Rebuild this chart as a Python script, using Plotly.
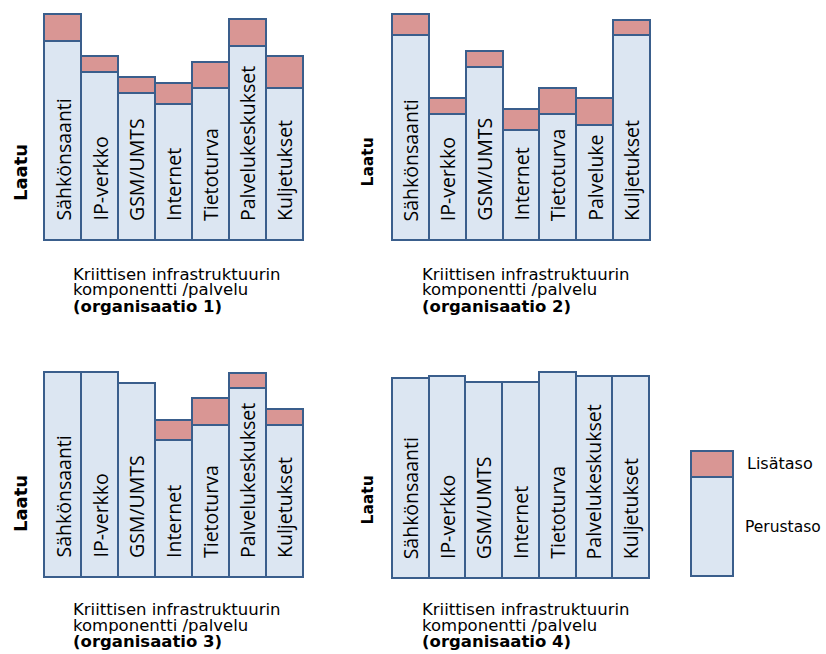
import plotly.graph_objects as go

W, H = 826, 654

# ---- data (arbitrary "Laatu" units) ----
categories_a = ["Sähkönsaanti", "IP-verkko", "GSM/UMTS", "Internet", "Tietoturva", "Palvelukeskukset", "Kuljetukset"]
categories_b = ["Sähkönsaanti", "IP-verkko", "GSM/UMTS", "Internet", "Tietoturva", "Palveluke", "Kuljetukset"]

org1_perus = [199, 168, 147, 136, 152, 194, 152]
org1_lisa = [27, 16, 16, 21, 26, 27, 32]

org2_perus = [205, 126, 173, 110, 126, 115, 205]
org2_lisa = [21, 16, 16, 21, 26, 27, 15]

org3_perus = [205, 205, 194, 137, 152, 189, 152]
org3_lisa = [None, None, None, 20, 27, 15, 16]

org4_perus = [200, 202, 196, 196, 206, 202, 202]
org4_lisa = [None, None, None, None, None, None, None]

legend_cat = ["Taso"]
legend_perus = [99]
legend_lisa = [26]

series_names = ["Perustaso", "Lisätaso"]
org_titles = ["(organisaatio 1)", "(organisaatio 2)", "(organisaatio 3)", "(organisaatio 4)"]
xtitle_lines = ["Kriittisen infrastruktuurin", "komponentti /palvelu"]
ylabel = "Laatu"

# ---- style ----
C_BASE = "#dce6f2"
C_LISA = "#d99694"
C_LINE = "#3a5e8c"
LW = 2
F_REG = "DejaVu Sans"
F_BAR = "Open Sans"

fig = go.Figure()

panels = [
    # cats, perus, lisa, L, R, B, laatu_x, laatu_y, laatu_size, title_x, title_ys
    (categories_a, org1_perus, org1_lisa, 44, 303, 240, 20, 173, 18, 72, [274, 290, 306]),
    (categories_b, org2_perus, org2_lisa, 392, 650, 240, 367.5, 162, 15.5, 421, [274, 290, 306]),
    (categories_a, org3_perus, org3_lisa, 44, 303, 577, 20, 504, 18, 72, [609, 625, 641]),
    (categories_a, org4_perus, org4_lisa, 392, 649, 578, 367.5, 500, 15.5, 421, [609, 625, 641]),
]

pad = 4
layout_axes = {}
annotations = []

def add_axes(idx, L, R, B, ncat, top_units=240):
    w = (R - L) / ncat
    sfx = str(idx) if idx > 1 else ""
    xa = dict(domain=[(L - pad) / W, (R + pad) / W], range=[-0.5 - pad / w, ncat - 0.5 + pad / w],
              showticklabels=False, showgrid=False, zeroline=False, showline=False, ticks="",
              anchor="y" + sfx, type="category")
    ya = dict(domain=[1 - (B + pad) / H, 1 - (B - top_units) / H], range=[-pad, top_units],
              showticklabels=False, showgrid=False, zeroline=False, showline=False, ticks="",
              anchor="x" + sfx)
    layout_axes["xaxis" + sfx] = xa
    layout_axes["yaxis" + sfx] = ya
    return ("x" + sfx, "y" + sfx)

for i, (cats, perus, lisa, L, R, B, lx, ly, ls, tx, tys) in enumerate(panels, start=1):
    xr, yr = add_axes(i, L, R, B, len(cats))
    fig.add_trace(go.Bar(x=cats, y=perus, name=series_names[0], xaxis=xr, yaxis=yr,
                         marker=dict(color=C_BASE, line=dict(color=C_LINE, width=LW)),
                         showlegend=False, hoverinfo="skip"))
    fig.add_trace(go.Bar(x=cats, y=lisa, name=series_names[1], xaxis=xr, yaxis=yr,
                         marker=dict(color=C_LISA, line=dict(color=C_LINE, width=LW)),
                         showlegend=False, hoverinfo="skip"))
    for c in cats:
        annotations.append(dict(x=c, y=18, xref=xr, yref=yr, text=c, showarrow=False,
                                textangle=-90, xanchor="center", yanchor="bottom", borderpad=0,
                                font=dict(family=F_BAR, size=19.5, color="#000000")))
    annotations.append(dict(x=lx / W, y=1 - ly / H, xref="paper", yref="paper", text="<b>%s</b>" % ylabel,
                            showarrow=False, textangle=-90, xanchor="center", yanchor="middle",
                            font=dict(family=F_REG, size=ls, color="#000000")))
    lines = xtitle_lines + ["<b>%s</b>" % org_titles[i - 1]]
    for t, yy in zip(lines, tys):
        annotations.append(dict(x=tx / W, y=1 - yy / H, xref="paper", yref="paper", text=t,
                                showarrow=False, xanchor="left", yanchor="middle", borderpad=0,
                                font=dict(family=F_REG, size=16.5, color="#000000")))

# legend panel
xr, yr = add_axes(5, 691, 733, 576, 1, top_units=130)
fig.add_trace(go.Bar(x=legend_cat, y=legend_perus, xaxis=xr, yaxis=yr, showlegend=False, hoverinfo="skip",
                     marker=dict(color=C_BASE, line=dict(color=C_LINE, width=LW))))
fig.add_trace(go.Bar(x=legend_cat, y=legend_lisa, xaxis=xr, yaxis=yr, showlegend=False, hoverinfo="skip",
                     marker=dict(color=C_LISA, line=dict(color=C_LINE, width=LW))))
annotations.append(dict(x=745 / W, y=legend_perus[0] + legend_lisa[0] / 2, xref="paper", yref=yr,
                        text=series_names[1], showarrow=False, xanchor="left", yanchor="middle",
                        font=dict(family=F_REG, size=16, color="#000000")))
annotations.append(dict(x=744 / W, y=legend_perus[0] / 2, xref="paper", yref=yr,
                        text=series_names[0], showarrow=False, xanchor="left", yanchor="middle",
                        borderpad=0, font=dict(family=F_REG, size=15.5, color="#000000")))

fig.update_layout(width=W, height=H, margin=dict(l=0, r=0, t=0, b=0),
                  paper_bgcolor="white", plot_bgcolor="white",
                  barmode="stack", bargap=0, showlegend=False,
                  annotations=annotations, **layout_axes)

fig.write_html("out.html")
